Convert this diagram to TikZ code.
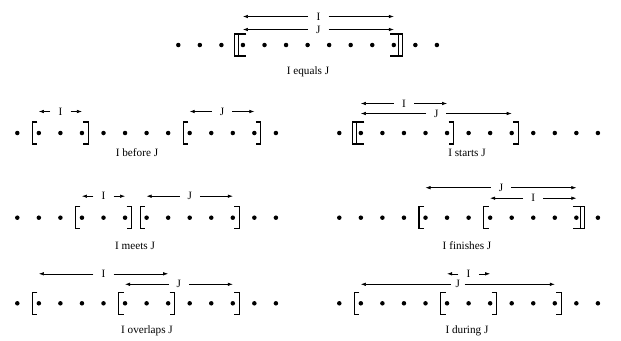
\documentclass[tikz,border=0pt]{standalone}
\usepackage{fontspec}
\setmainfont{Liberation Serif}
\usetikzlibrary{arrows.meta,calc}
\newcommand\intv[6][]{%
  \node[lab,#1,yshift=#4] (#6) at ($(#2)!0.5!(#3)$) {#5};
  \draw[arr] (#6.west) -- (#2 |- #6);
  \draw[arr] (#6.east) -- (#3 |- #6);}
\begin{document}
\begin{tikzpicture}[x=1pt,y=-1pt,
  dot/.style={circle,fill,inner sep=0pt,minimum size=4.5pt},
  lab/.style={inner sep=0pt,minimum width=20pt,font=\fontsize{11.2}{13}\selectfont},
  captext/.style={inner sep=0pt,font=\fontsize{11.2}{13}\selectfont},
  arr/.style={-{Latex[length=5pt,width=3.5pt]},line width=0.6pt},
  brk/.style={line width=1.1pt},
  lbr/.pic={\draw[brk] (-1.5,-11) -- (-6.5,-11) -- (-6.5,11) -- (-1.5,11);},
  rbr/.pic={\draw[brk] (1.5,-11) -- (6.5,-11) -- (6.5,11) -- (1.5,11);},
  dlbr/.pic={\draw[brk] (3.5,-11) -- (-8.5,-11) -- (-8.5,11) -- (3.5,11); \draw[brk] (-4.5,-11) -- (-4.5,11);},
  drbr/.pic={\draw[brk] (-3.5,-11) -- (8.5,-11) -- (8.5,11) -- (-3.5,11); \draw[brk] (4.5,-11) -- (4.5,11);}]
\useasboundingbox (0,0) rectangle (621,340);
% dot rows
\foreach \i in {1,...,13} {
  \node[dot] (a-\i) at ({178.3+(\i-1)*21.55},45) {};
  \node[dot] (b-\i) at ({17.3+(\i-1)*21.55},133) {};
  \node[dot] (c-\i) at ({17.3+(\i-1)*21.55},217.7) {};
  \node[dot] (d-\i) at ({17.3+(\i-1)*21.55},303.3) {};
  \node[dot] (e-\i) at ({339.3+(\i-1)*21.55},133) {};
  \node[dot] (f-\i) at ({339.3+(\i-1)*21.55},217.7) {};
  \node[dot] (g-\i) at ({339.3+(\i-1)*21.55},303.3) {};
}
% I equals J
\pic at (a-4) {dlbr}; \pic at (a-11) {drbr};
\intv{a-4}{a-11}{28.5}{I}{ai}
\intv{a-4}{a-11}{15.5}{J}{aj}
\node[captext] (capa) at (308,72) {I equals J};
% I before J
\pic at (b-2) {lbr}; \pic at (b-4) {rbr}; \pic at (b-9) {lbr}; \pic at (b-12) {rbr};
\intv{b-2}{b-4}{21.5}{I}{bi}
\intv{b-9}{b-12}{21.5}{J}{bj}
\node[captext] (capb) at (137,153) {I before J};
% I starts J
\pic at (e-2) {dlbr}; \pic at (e-6) {rbr}; \pic at (e-9) {rbr};
\intv{e-2}{e-6}{29.5}{I}{ei}
\intv{e-2}{e-9}{19.5}{J}{ej}
\node[captext] (cape) at (467,153) {I starts J};
% I meets J
\pic at (c-4) {lbr}; \pic at (c-6) {rbr}; \pic at (c-7) {lbr}; \pic at (c-11) {rbr};
\intv{c-4}{c-6}{21.5}{I}{ci}
\intv{c-7}{c-11}{21.5}{J}{cj}
\node[captext] (capc) at (135,245.5) {I meets J};
% I finishes J
\pic at (f-5) {lbr}; \pic at (f-8) {lbr}; \pic at (f-12) {drbr};
\intv{f-5}{f-12}{30}{J}{fj}
\intv{f-8}{f-12}{19.5}{I}{fi}
\node[captext] (capf) at (467,245.5) {I finishes J};
% I overlaps J
\pic at (d-2) {lbr}; \pic at (d-6) {lbr}; \pic at (d-8) {rbr}; \pic at (d-11) {rbr};
\intv{d-2}{d-8}{29.5}{I}{di}
\intv{d-6}{d-11}{19}{J}{dj}
\node[captext] (capd) at (147,331) {I overlaps J};
% I during J
\pic at (g-2) {lbr}; \pic at (g-6) {lbr}; \pic at (g-8) {rbr}; \pic at (g-11) {rbr};
\intv{g-6}{g-8}{29.5}{I}{gi}
\intv[minimum width=13pt]{g-2}{g-11}{19}{J}{gj}
\node[captext] (capg) at (467,331) {I during J};
\end{tikzpicture}
\end{document}
